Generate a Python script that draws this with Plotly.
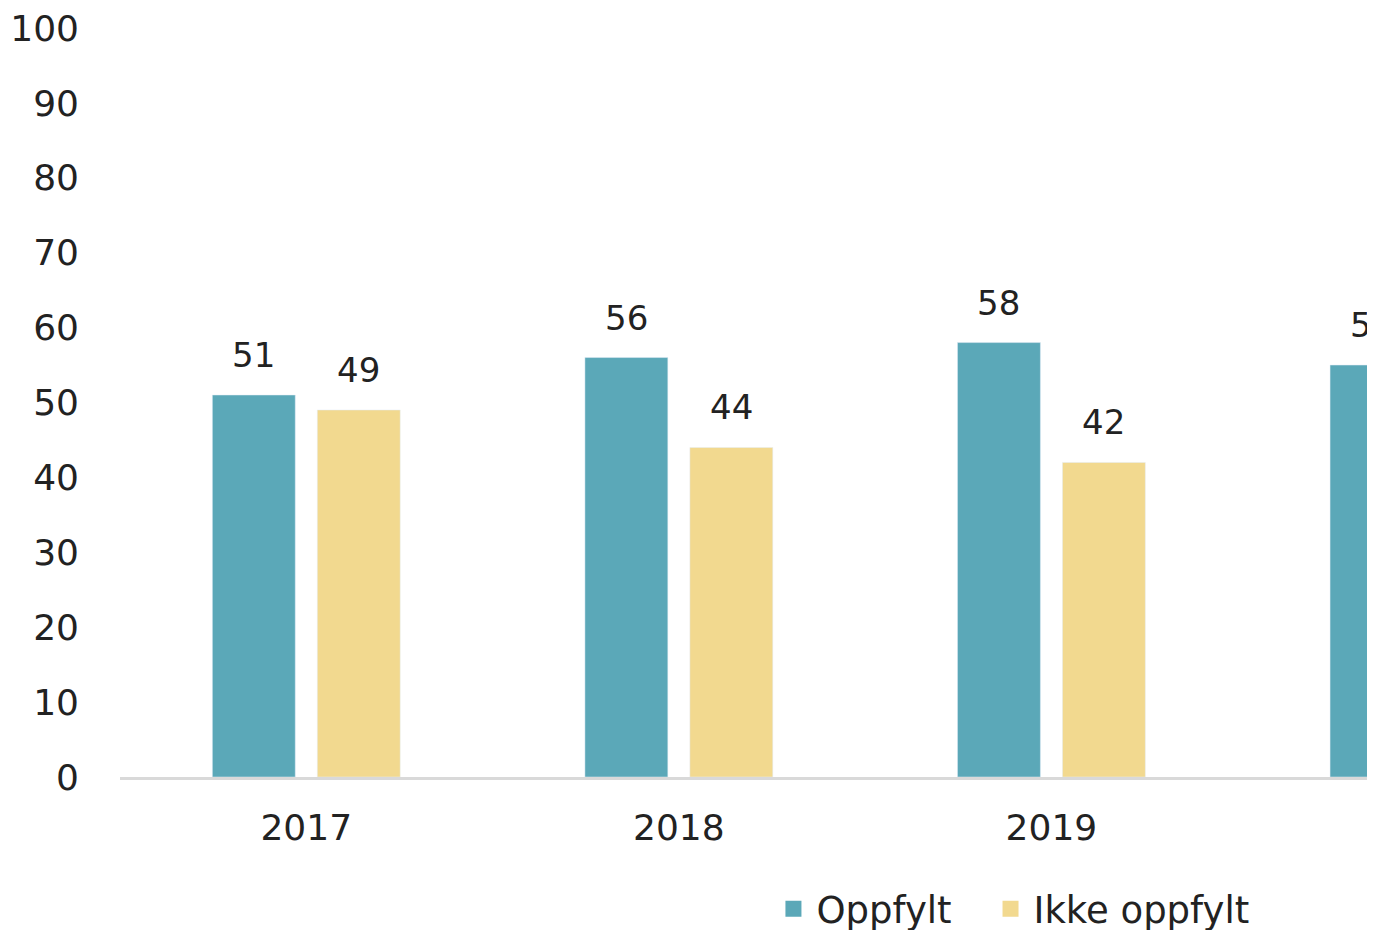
import plotly.graph_objects as go

years = ["2017", "2018", "2019", "2020"]
oppfylt = [51, 56, 58, 55]
ikke_oppfylt = [49, 44, 42, 45]
y_ticks = [0, 10, 20, 30, 40, 50, 60, 70, 80, 90, 100]
legend_names = ["Oppfylt", "Ikke oppfylt"]

TEAL = "#5BA8B8"
SAND = "#F2D98F"
FONT = "DejaVu Sans"
TXT = "#222222"
BARGAP = 0.4366
BARGROUPGAP = 0.21

fig = go.Figure()
fig.add_trace(go.Bar(x=years, y=oppfylt, name=legend_names[0], marker_color=TEAL, showlegend=False))
fig.add_trace(go.Bar(x=years, y=ikke_oppfylt, name=legend_names[1], marker_color=SAND, showlegend=False))

# legend entries with square symbols
fig.add_trace(go.Scatter(x=[None], y=[None], mode="markers",
                         name=legend_names[0] + "\u00a0\u00a0\u2009",
                         marker=dict(symbol="square", size=22, color=TEAL)))
fig.add_trace(go.Scatter(x=[None], y=[None], mode="markers", name=legend_names[1],
                         marker=dict(symbol="square", size=22, color=SAND)))

# value labels centred over each bar of the group (offset in category units)
half_slot = (1 - BARGAP) / 4
annotations = []
for series, off in ((oppfylt, -half_slot), (ikke_oppfylt, half_slot)):
    for i, v in enumerate(series):
        annotations.append(dict(x=i + off, y=v, xref="x", yref="y", text=str(v),
                                showarrow=False, yshift=18,
                                yanchor="bottom", font=dict(family=FONT, size=34, color=TXT)))

fig.update_layout(
    width=1375, height=930,
    margin=dict(l=112, r=0, t=20, b=161),
    paper_bgcolor="white", plot_bgcolor="white",
    bargap=BARGAP, bargroupgap=BARGROUPGAP,
    font=dict(family=FONT, size=36, color=TXT),
    annotations=annotations,
    legend=dict(orientation="h", x=0.515, xanchor="left", xref="paper",
                y=0.031, yanchor="middle", yref="container",
                font=dict(family=FONT, size=37, color=TXT), itemsizing="trace",
                itemwidth=36, traceorder="normal"),
    xaxis=dict(type="category", range=[-0.5, 2.89], showline=True, linecolor="#D9D9D9",
               linewidth=3, showgrid=False, zeroline=False, ticks="", automargin=False,
               ticklabelstandoff=17, tickfont=dict(family=FONT, size=36, color=TXT)),
    yaxis=dict(range=[0, 100], tickvals=y_ticks, showgrid=False, zeroline=False,
               showline=False, ticks="", ticklabelstandoff=40, automargin=False,
               ticklabeloverflow="allow",
               tickfont=dict(family=FONT, size=36, color=TXT)),
)

fig.write_html("out.html")
